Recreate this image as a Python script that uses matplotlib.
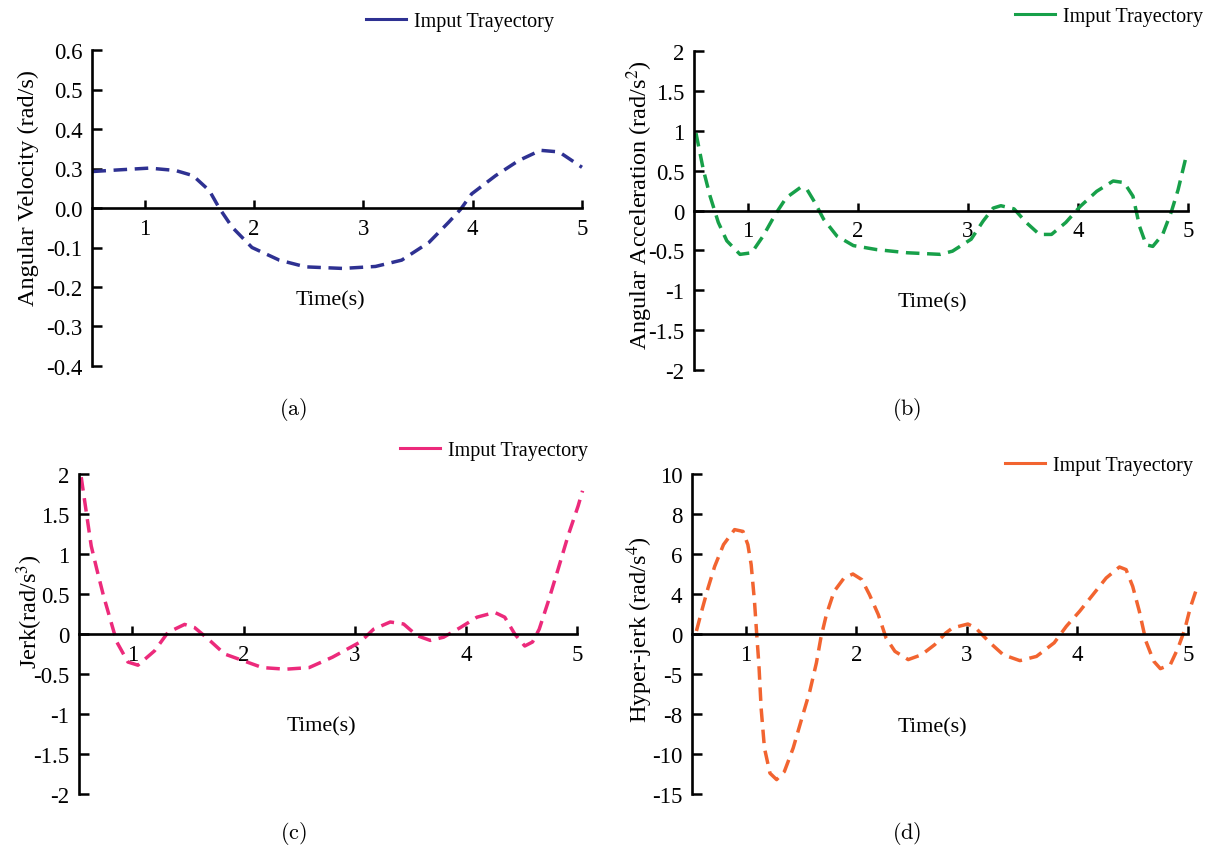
import numpy as np
import matplotlib
matplotlib.use("Agg")
import matplotlib.pyplot as plt
from matplotlib.lines import Line2D

# ---------------- data ----------------
vel_t = [0.52, 0.77, 1.04, 1.28, 1.44, 1.59, 1.68, 1.80, 1.98, 2.23, 2.47, 2.81,
         3.11, 3.35, 3.60, 3.78, 3.89, 3.99, 4.21, 4.42, 4.62, 4.79, 5.0]
vel = [0.277, 0.29, 0.301, 0.285, 0.246, 0.132, 0.0, -0.049, -0.1, -0.132, -0.149, -0.153,
       -0.148, -0.132, -0.087, -0.036, -0.003, 0.107, 0.246, 0.32, 0.346, 0.342, 0.303]

acc_t = [0.53, 0.597, 0.658, 0.733, 0.81, 0.93, 1.036, 1.14, 1.25, 1.35, 1.48, 1.54, 1.61,
         1.69, 1.81, 1.96, 2.17, 2.45, 2.75, 2.86, 3.03, 3.14, 3.23, 3.30, 3.42, 3.53,
         3.65, 3.76, 3.89, 4.02, 4.17, 4.32, 4.42, 4.50, 4.56, 4.62, 4.68, 4.77, 4.85,
         4.91, 4.98]
acc = [0.97, 0.51, 0.18, -0.15, -0.38, -0.55, -0.53, -0.32, -0.05, 0.16, 0.29, 0.26, 0.10,
       -0.11, -0.32, -0.44, -0.49, -0.53, -0.55, -0.51, -0.36, -0.13, 0.03, 0.06, 0.02, -0.15,
       -0.30, -0.30, -0.15, 0.05, 0.24, 0.37, 0.35, 0.18, -0.20, -0.43, -0.45, -0.30, -0.01,
       0.26, 0.66]

jerk_t = [0.54, 0.59, 0.63, 0.68, 0.74, 0.80, 0.86, 0.96, 1.05, 1.20, 1.32, 1.47, 1.56,
          1.68, 1.83, 1.99, 2.17, 2.38, 2.59, 2.80, 3.05, 3.17, 3.32, 3.44, 3.56, 3.68,
          3.80, 3.95, 4.10, 4.26, 4.35, 4.44, 4.53, 4.60, 4.66, 4.74, 4.83, 4.92, 5.01, 5.05]
jerk = [1.96, 1.48, 1.10, 0.81, 0.48, 0.19, -0.10, -0.35, -0.39, -0.21, 0.02, 0.12, 0.08,
        -0.06, -0.25, -0.33, -0.42, -0.44, -0.42, -0.29, -0.10, 0.06, 0.15, 0.125, -0.02, -0.08,
        -0.04, 0.08, 0.21, 0.27, 0.21, 0.0, -0.15, -0.10, 0.06, 0.40, 0.81, 1.23, 1.60, 1.79]

hj_t = [0.555, 0.61, 0.66, 0.72, 0.80, 0.90, 0.976, 1.02, 1.05, 1.08, 1.10, 1.12, 1.14,
        1.17, 1.22, 1.28, 1.35, 1.43, 1.50, 1.58, 1.64, 1.68, 1.73, 1.80, 1.89, 1.97,
        2.05, 2.12, 2.20, 2.27, 2.35, 2.47, 2.59, 2.71, 2.81, 2.87, 3.01, 3.08, 3.21,
        3.33, 3.48, 3.63, 3.79, 3.90, 4.02, 4.14, 4.26, 4.38, 4.44, 4.50, 4.56, 4.62,
        4.69, 4.75, 4.84, 4.91, 4.97, 5.02, 5.08]
hj = [0.3, 2.6, 4.3, 5.38, 6.47, 7.22, 7.13, 6.47, 5.47, 3.27, 0.0, -3.83, -7.55,
      -9.7, -12.4, -13.2, -12.2, -9.7, -8.37, -6.3, -3.6, -0.5, 1.93, 4.13, 4.8, 5.0,
      4.72, 3.93, 1.93, -0.5, -2.17, -3.2, -2.6, -1.33, 0.1, 0.6, 1.0, 0.6, -1.1,
      -2.6, -3.33, -2.8, -1.1, 0.77, 2.27, 3.93, 4.8, 5.35, 5.22, 4.38, 2.27, -0.92,
      -3.4, -4.33, -3.83, -1.75, 0.43, 2.6, 4.3]

x_ticks = [1, 2, 3, 4, 5]
vel_ticks = [-0.4, -0.3, -0.2, -0.1, 0.0, 0.3, 0.4, 0.5, 0.6]
vel_labels = ["-0.4", "-0.3", "-0.2", "-0.1", "0.0", "0.3", "0.4", "0.5", "0.6"]
acc_ticks = [-2, -1.5, -1, -0.5, 0, 0.5, 1, 1.5, 2]
acc_labels = ["-2", "-1.5", "-1", "-0.5", "0", "0.5", "1", "1.5", "2"]
jerk_ticks = [-2, -1.5, -1, -0.5, 0, 0.5, 1, 1.5, 2]
jerk_labels = ["-2", "-1.5", "-1", "-0.5", "0", "0.5", "1", "1.5", "2"]
hj_ticks = [-15, -10, -8, -5, 0, 4, 6, 8, 10]
hj_labels = ["-15", "-10", "-8", "-5", "0", "4", "6", "8", "10"]

legend_label = "Imput Trayectory"
colors = ["#2e3192", "#17a049", "#ec2a7b", "#f26430"]

# ---------------- style ----------------
plt.rcParams["font.family"] = ["Liberation Serif", "DejaVu Serif"]
plt.rcParams["mathtext.fontset"] = "stix"

W, H, DPI = 1207, 853, 100
fig = plt.figure(figsize=(W / DPI, H / DPI), dpi=DPI)


def fx(x):
    return x / W


def fy(y):
    return 1 - y / H


def add_ax(left, right, top, bottom):
    return fig.add_axes([fx(left), fy(bottom), (right - left) / W, (bottom - top) / H])


def piecewise(xp, fp):
    xp = np.asarray(xp, float)
    fp = np.asarray(fp, float)

    def f(v):
        v = np.asarray(v, float)
        out = np.interp(v, xp, fp)
        s0 = (fp[1] - fp[0]) / (xp[1] - xp[0])
        s1 = (fp[-1] - fp[-2]) / (xp[-1] - xp[-2])
        out = np.where(v < xp[0], fp[0] + (v - xp[0]) * s0, out)
        out = np.where(v > xp[-1], fp[-1] + (v - xp[-1]) * s1, out)
        return out
    return f


def style(ax, xlim, ticks, labels, ylim):
    ax.patch.set_visible(False)
    ax.spines["top"].set_visible(False)
    ax.spines["right"].set_visible(False)
    ax.spines["bottom"].set_position(("data", 0))
    for s in ("left", "bottom"):
        ax.spines[s].set_linewidth(1.9)
        ax.spines[s].set_capstyle("projecting")
    ax.set_xlim(*xlim)
    ax.set_ylim(*ylim)
    ax.set_xticks(x_ticks)
    ax.set_xticklabels([str(v) for v in x_ticks])
    ax.set_yticks(ticks)
    ax.set_yticklabels(labels)
    ax.tick_params(axis="y", direction="in", length=7, width=1.8, pad=7, labelsize=16.5)
    ax.tick_params(axis="x", direction="in", length=6, width=1.8, pad=7, labelsize=16.5)


dash = (3.9, 2.2)
pos = np.arange(-4, 5)

# (a)
axa = add_ax(92, 582, 51, 367)
axa.set_yscale("function", functions=(piecewise(vel_ticks, pos), piecewise(pos, vel_ticks)))
axa.plot(vel_t, vel, color=colors[0], lw=2.5, dashes=dash, clip_on=False)
style(axa, (0.516, 5.0), vel_ticks, vel_labels, (-0.4, 0.6))

# (b)
axb = add_ax(694, 1188, 52, 371)
axb.plot(acc_t, acc, color=colors[1], lw=2.5, dashes=dash, clip_on=False)
style(axb, (0.512, 5.0), acc_ticks, acc_labels, (-2, 2))

# (c)
axc = add_ax(79, 577, 475, 795)
axc.plot(jerk_t, jerk, color=colors[2], lw=2.5, dashes=dash, clip_on=False)
style(axc, (0.52, 5.0), jerk_ticks, jerk_labels, (-2, 2))

# (d)
axd = add_ax(692, 1188, 475, 795)
axd.set_yscale("function", functions=(piecewise(hj_ticks, pos), piecewise(pos, hj_ticks)))
axd.plot(hj_t, hj, color=colors[3], lw=2.5, dashes=dash, clip_on=False)
style(axd, (0.515, 5.0), hj_ticks, hj_labels, (-15, 10))

# y labels
ylab = [
    ("Angular Velocity (rad/s)", 28, 188),
    (r"Angular Acceleration (rad/s$^{2}$)", 640, 205),
    (r"Jerk(rad/s$^{3}$)", 30, 612),
    (r"Hyper-jerk (rad/s$^{4}$)", 640, 630),
]
for txt, x, y in ylab:
    fig.text(fx(x), fy(y), txt, rotation=90, ha="center", va="center", fontsize=17.5)

# Time(s) labels
for x, y in [(330, 301), (932, 303), (321, 727), (932, 728)]:
    fig.text(fx(x), fy(y), "Time(s)", ha="center", va="center", fontsize=16)

# captions
for txt, x, y in [("(a)", 293, 410), ("(b)", 907, 410), ("(c)", 293, 834), ("(d)", 907, 834)]:
    fig.text(fx(x), fy(y), r"$\mathrm{%s}$" % txt, ha="center", va="center",
             fontsize=16, math_fontfamily="cm")

# legends
for c, (x, y) in zip(colors, [(366, 22), (1015, 17), (400, 451), (1005, 466)]):
    fig.legend(handles=[Line2D([], [], color=c, lw=2.2)], labels=[legend_label],
               loc="center left", bbox_to_anchor=(fx(x), fy(y)), frameon=False,
               fontsize=14.5, handlelength=2.0, handletextpad=0.4,
               borderpad=0, borderaxespad=0)

fig.savefig("out.png", dpi=DPI)
